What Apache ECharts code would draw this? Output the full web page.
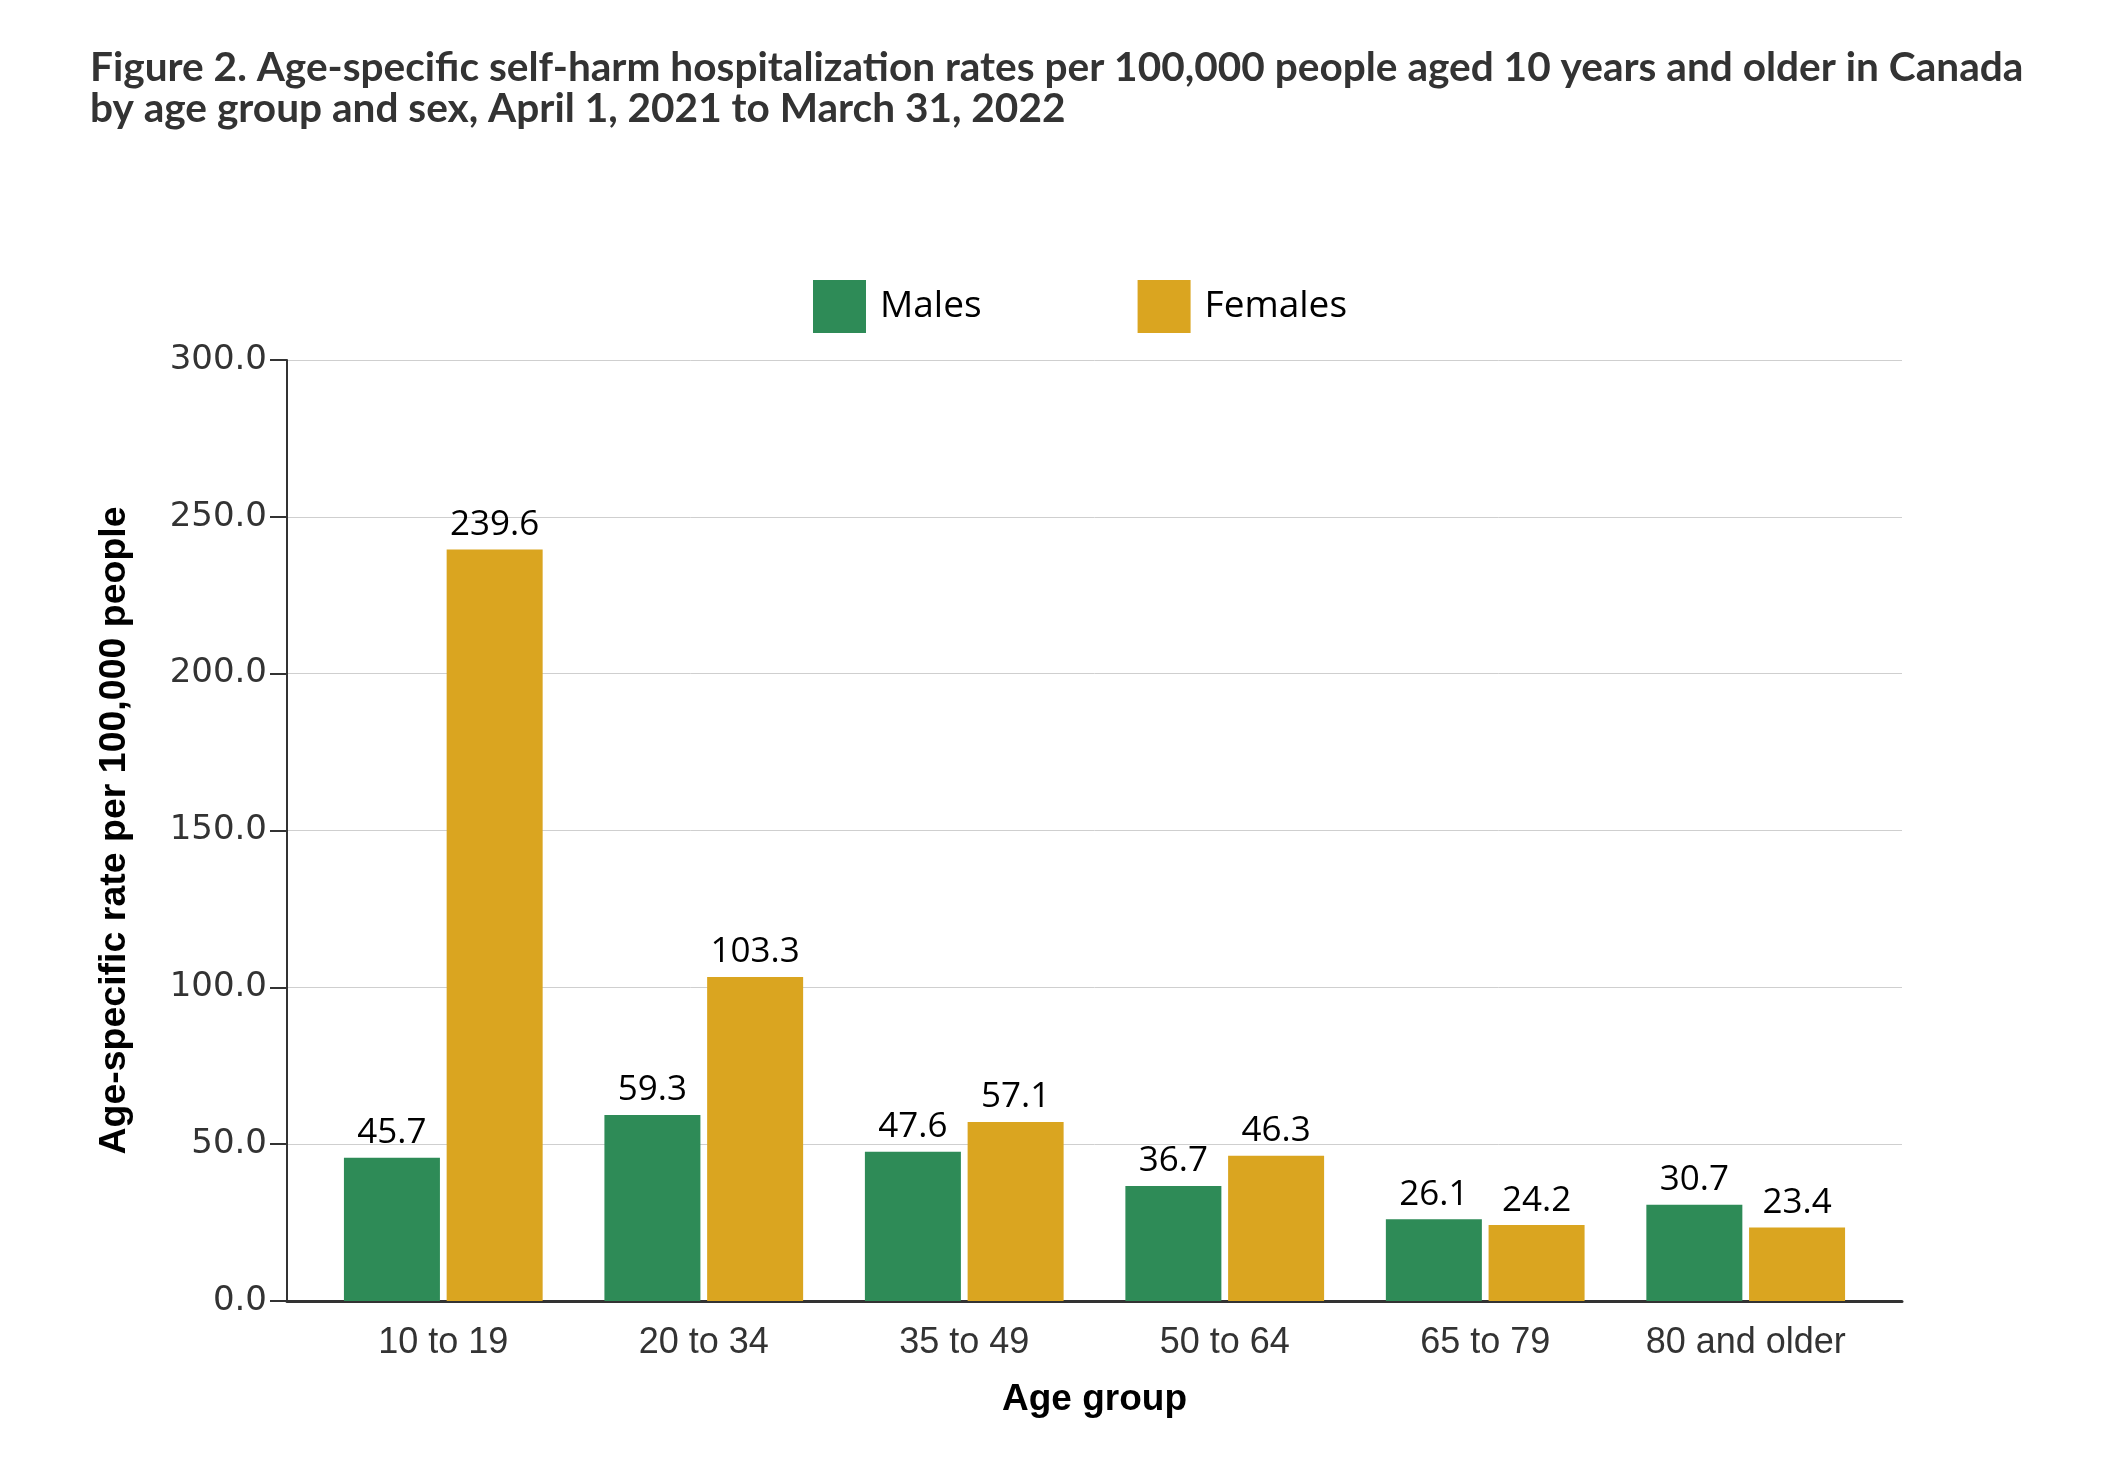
<!DOCTYPE html>
<html>
<head>
<meta charset="utf-8">
<script src="https://cdn.jsdelivr.net/npm/echarts@6/dist/echarts.min.js"></script>
<style>
html,body{margin:0;padding:0;background:#fff;}
#chart{width:2114px;height:1470px;}
</style>
</head>
<body>
<div id="chart"></div>
<script>
const categories = ['10 to 19', '20 to 34', '35 to 49', '50 to 64', '65 to 79', '80 and older'];
const males = [45.7, 59.3, 47.6, 36.7, 26.1, 30.7];
const females = [239.6, 103.3, 57.1, 46.3, 24.2, 23.4];
const yTicks = [0, 50, 100, 150, 200, 250, 300];

const chart = echarts.init(document.getElementById('chart'), null, {renderer: 'canvas'});
const labelStyle = {
  show: true, position: 'top', distance: 7,
  fontFamily: 'Open Sans', fontSize: 35, color: '#000',
  formatter: p => p.value[1].toFixed(1)
};
chart.setOption({
  animation: false,
  backgroundColor: '#fff',
  title: {
    text: 'Figure 2. Age-specific self-harm hospitalization rates per 100,000 people aged 10 years and older in Canada\nby age group and sex, April 1, 2021 to March 31, 2022',
    left: 85, top: 42,
    textStyle: {fontFamily: 'Lato', fontWeight: 'bold', fontSize: 40.6, lineHeight: 41, color: '#333'}
  },
  legend: {
    left: 808, top: 275,
    itemWidth: 53, itemHeight: 53, itemGap: 156,
    icon: 'rect',
    textStyle: {fontFamily: 'Open Sans', fontSize: 37, color: '#000', padding: [0, 0, 0, 9]},
    data: ['Males', 'Females']
  },
  grid: {left: 287, right: 212, top: 360, bottom: 169, containLabel: false},
  xAxis: {
    type: 'value', min: -0.6, max: 5.6,
    name: 'Age group', nameLocation: 'middle', nameGap: 80,
    nameTextStyle: {fontFamily: 'Liberation Sans', fontWeight: 'bold', fontSize: 37, color: '#000'},
    axisLine: {show: true, onZero: false, lineStyle: {color: '#333', width: 3}},
    axisTick: {show: false},
    splitLine: {show: false},
    axisLabel: {
      customValues: [0, 1, 2, 3, 4, 5],
      formatter: v => categories[Math.round(v)] || '',
      margin: 24, fontFamily: 'Liberation Sans', fontSize: 36, color: '#333'
    }
  },
  yAxis: {
    type: 'value', min: yTicks[0], max: yTicks[yTicks.length - 1], interval: 50,
    name: 'Age-specific rate per 100,000 people', nameLocation: 'middle', nameGap: 153,
    nameTextStyle: {fontFamily: 'Liberation Sans', fontWeight: 'bold', fontSize: 37.5, color: '#000'},
    axisLine: {show: true, onZero: false, lineStyle: {color: '#333', width: 2}},
    axisTick: {show: true, length: 17, lineStyle: {color: '#333', width: 2}},
    splitLine: {show: true, lineStyle: {color: '#cfcfcf', width: 1}},
    axisLabel: {
      margin: 20, fontFamily: 'DejaVu Sans', fontSize: 34, color: '#333',
      formatter: v => v.toFixed(1)
    }
  },
  series: [
    {
      name: 'Males', type: 'bar', barWidth: 96, barGap: '7%',
      itemStyle: {color: '#2E8B57'},
      label: labelStyle,
      data: males.map((v, i) => [i, v])
    },
    {
      name: 'Females', type: 'bar', barWidth: 96, barGap: '7%',
      itemStyle: {color: '#DAA520'},
      label: labelStyle,
      data: females.map((v, i) => [i, v])
    }
  ]
});
</script>
</body>
</html>
